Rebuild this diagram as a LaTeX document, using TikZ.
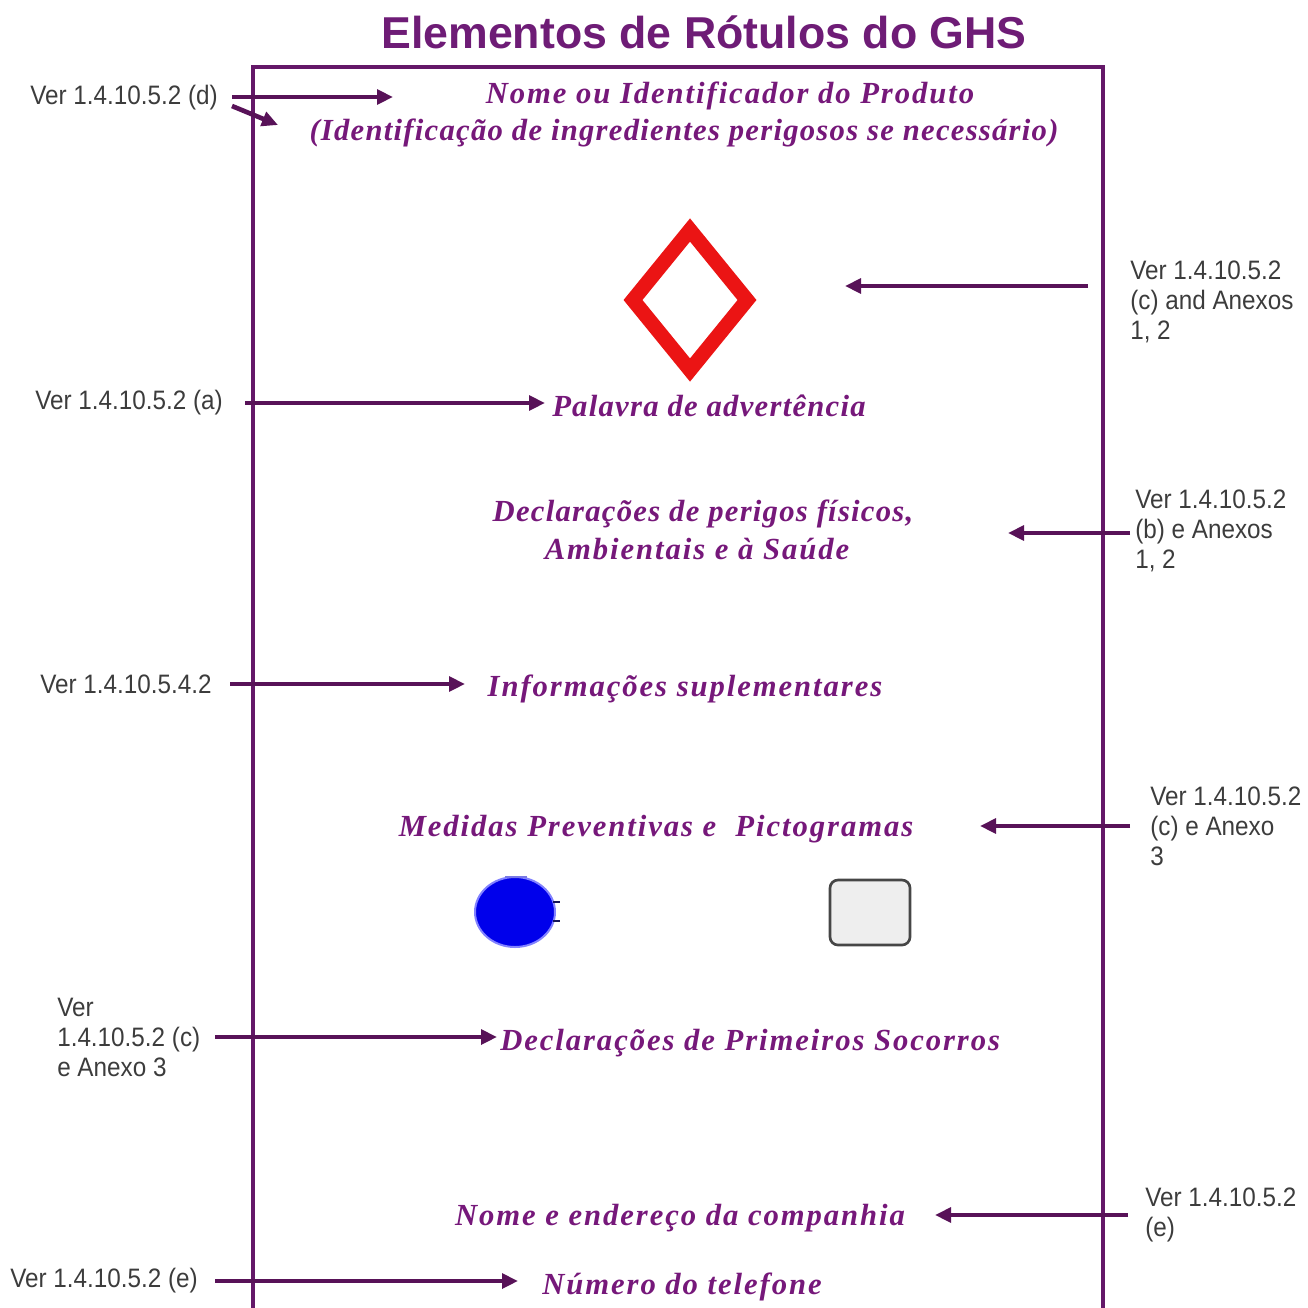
\documentclass[tikz,border=0pt]{standalone}
\usepackage{fontspec}
\setmainfont{Liberation Serif}
\newfontfamily\labfont[FakeStretch=0.91]{Liberation Sans}
\newfontfamily\titfont{Liberation Sans}
\newfontfamily\itwide[LetterSpace=6.3]{Liberation Serif}
\newfontfamily\itmid[LetterSpace=4.1]{Liberation Serif}
\usetikzlibrary{arrows.meta}
\definecolor{titc}{RGB}{110,28,118}
\definecolor{txtc}{RGB}{118,24,122}
\definecolor{arrc}{RGB}{88,18,88}
\definecolor{boxc}{RGB}{100,24,104}
\definecolor{labc}{RGB}{60,60,60}
\definecolor{diac}{RGB}{235,20,20}
\definecolor{bluef}{RGB}{0,0,235}
\definecolor{blued}{RGB}{130,130,255}
\definecolor{bluet}{RGB}{20,20,90}
\definecolor{bluetop}{RGB}{120,120,230}
\definecolor{grayf}{RGB}{238,238,238}
\definecolor{grayd}{RGB}{70,70,70}
\begin{document}
\begin{tikzpicture}[x=0.75pt,y=-0.75pt,
  it/.style={inner sep=0pt,yshift=-2.2pt,text=txtc,font=\itwide\fontsize{23}{27}\selectfont\bfseries\itshape},
  itm/.style={inner sep=0pt,yshift=-2.2pt,text=txtc,font=\itmid\fontsize{23}{27}\selectfont\bfseries\itshape},
  lab/.style={inner sep=0pt,text=labc,align=left,font=\labfont\fontsize{20}{22.5}\selectfont},
  arr/.style={draw=arrc,line width=3.5pt,-{Triangle[length=12pt,width=11pt]}},
  ]
\useasboundingbox (0,0) rectangle (1308,1307);
% title
\node[inner sep=0pt,text=titc,font=\titfont\bfseries\fontsize{33.5}{36}\selectfont] (title) at (704,32) {Elementos de Rótulos do GHS};
% box
\draw[boxc,line width=2.5pt] (253,1312) -- (253,67) -- (1103,67) -- (1103,1312);
% product
\node[it] (nome) at (730,93) {Nome ou Identificador do Produto};
\node[itm] (ident) at (684,130) {(Identificação de ingredientes perigosos se necessário)};
\node[lab,anchor=west] (ld) at (30,98) {Ver 1.4.10.5.2 (d)};
\coordinate (sd1) at (232,97); \coordinate (td1) at (393,97);
\coordinate (sd2) at (232,106); \coordinate (td2) at (278,125);
\draw[arr] (sd1) -- (td1);
\draw[arr] (sd2) -- (td2);
% diamond
\draw[diac,line width=11pt,line join=miter] (690,230) -- (747,300) -- (690,370) -- (633,300) -- cycle;
\coordinate (diam) at (690,300);
\node[lab,anchor=west] (lc) at (1130,302) {Ver 1.4.10.5.2\\(c) and Anexos\\1, 2};
\coordinate (sc) at (1088,286); \coordinate (tc) at (845,286);
\draw[arr] (sc) -- (tc);
% palavra
\node[itm,anchor=west] (pal) at (552,403) {Palavra de advertência};
\node[lab,anchor=west] (la) at (35,403) {Ver 1.4.10.5.2 (a)};
\coordinate (sa) at (245,403); \coordinate (ta) at (545,403);
\draw[arr] (sa) -- (ta);
% declaracoes perigos
\node[itm] (dec1) at (703,511) {Declarações de perigos físicos,};
\node[it] (dec2) at (697,546) {Ambientais e à Saúde};
\node[lab,anchor=west] (lb) at (1135,531) {Ver 1.4.10.5.2\\(b) e Anexos\\1, 2};
\coordinate (sb) at (1130,533); \coordinate (tb) at (1008,533);
\draw[arr] (sb) -- (tb);
% informacoes
\node[it] (inf) at (685,686) {Informações suplementares};
\node[lab,anchor=west] (li) at (40,684) {Ver 1.4.10.5.4.2};
\coordinate (si) at (230,684); \coordinate (ti) at (465,684);
\draw[arr] (si) -- (ti);
% medidas
\node[it] (med) at (656,826) {Medidas Preventivas e \ Pictogramas};
\node[lab,anchor=west] (lm) at (1150,826) {Ver 1.4.10.5.2\\(c) e Anexo\\3};
\coordinate (sm) at (1130,826); \coordinate (tm) at (980,826);
\draw[arr] (sm) -- (tm);
% pictograms
\draw[fill=bluef,draw=blued,line width=1.5pt] (515,912) ellipse[x radius=40,y radius=35];
\draw[bluet,line width=1.8pt] (553,902) -- (560,902) (553,921) -- (560,921);
\draw[bluetop,line width=2pt] (505,877) -- (527,877);
\draw[fill=grayf,draw=grayd,line width=2pt,rounded corners=6pt] (830,880) rectangle (910,945);
% primeiros socorros
\node[it,anchor=west] (ps) at (500,1040) {Declarações de Primeiros Socorros};
\node[lab,anchor=west] (lp) at (57,1037) {Ver\\1.4.10.5.2 (c)\\e Anexo 3};
\coordinate (sp) at (215,1037); \coordinate (tp) at (497,1037);
\draw[arr] (sp) -- (tp);
% companhia
\node[it] (comp) at (680,1215) {Nome e endereço da companhia};
\node[lab,anchor=west] (le) at (1145,1215) {Ver 1.4.10.5.2\\(e)};
\coordinate (se) at (1128,1215); \coordinate (te) at (935,1215);
\draw[arr] (se) -- (te);
% telefone
\node[it] (tel) at (682,1284) {Número do telefone};
\node[lab,anchor=west] (lt) at (10,1281) {Ver 1.4.10.5.2 (e)};
\coordinate (st) at (215,1281); \coordinate (tt) at (518,1281);
\draw[arr] (st) -- (tt);
\end{tikzpicture}
\end{document}
